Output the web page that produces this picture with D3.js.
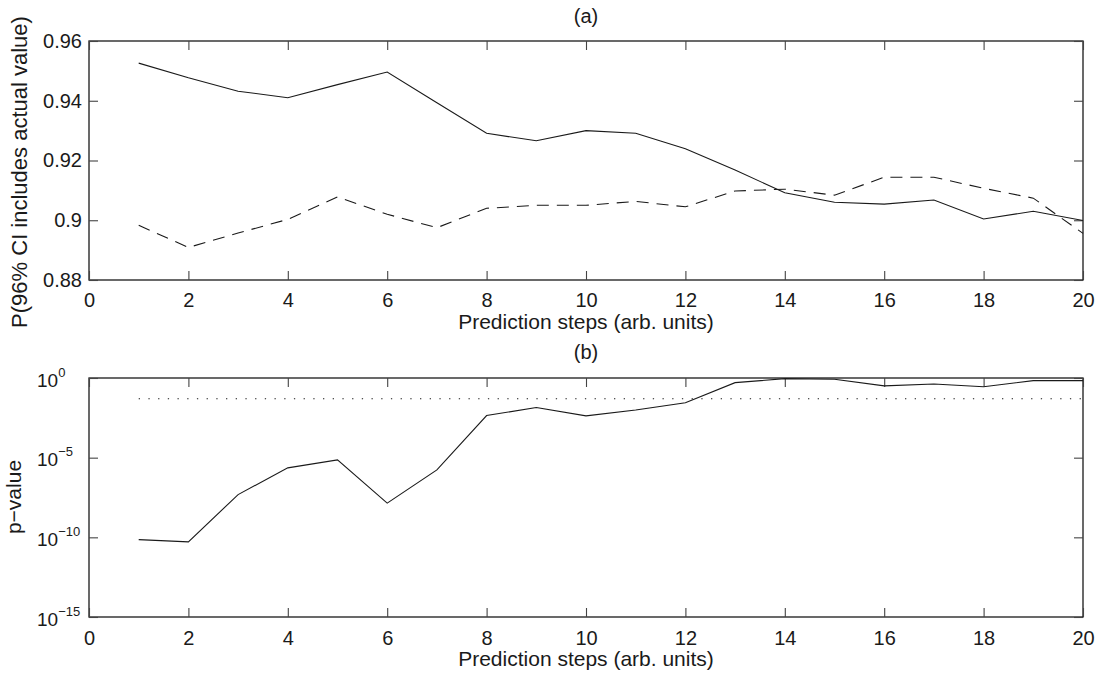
<!DOCTYPE html>
<html>
<head>
<meta charset="utf-8">
<script src="https://cdn.jsdelivr.net/npm/d3@7"></script>
<style>
  body { margin: 0; background: #fff; }
  svg { display: block; font-family: "Liberation Sans", Arial, sans-serif; }
</style>
</head>
<body>
<svg id="chart" width="1100" height="675"></svg>
<script>
var steps = [1, 2, 3, 4, 5, 6, 7, 8, 9, 10, 11, 12, 13, 14, 15, 16, 17, 18, 19, 20];
var coverageSolid = [0.9526, 0.9477, 0.9432, 0.9410, 0.9454, 0.9496, 0.9393, 0.9291, 0.9266, 0.9300,
                     0.9291, 0.9239, 0.9168, 0.9092, 0.9060, 0.9054, 0.9068, 0.9004, 0.9030, 0.8999];
var coverageDashed = [0.8983, 0.8909, 0.8957, 0.9003, 0.9078, 0.9020, 0.8975, 0.9040, 0.9050, 0.9050,
                      0.9063, 0.9045, 0.9098, 0.9104, 0.9084, 0.9144, 0.9144, 0.9107, 0.9074, 0.8956];
var pValues = [7.2e-11, 5.2e-11, 4.8e-8, 2.3e-6, 7.2e-6, 1.4e-8, 1.7e-6, 4.4e-3, 1.4e-2, 4.2e-3,
               9.8e-3, 2.8e-2, 0.51, 0.91, 0.83, 0.32, 0.42, 0.28, 0.68, 0.68];
var significance = 0.05;
var xTicks = [0, 2, 4, 6, 8, 10, 12, 14, 16, 18, 20];
var topYTicks = [0.88, 0.9, 0.92, 0.94, 0.96];
var logYTicks = [1e-15, 1e-10, 1e-5, 1];

var LEFT = 89, RIGHT = 1083;
var TICK = 9;
var INK = '#1a1a1a';

var svg = d3.select('#chart');

var x = d3.scaleLinear().domain([0, 20]).range([LEFT, RIGHT]);

function drawFrame(g, top, bottom, yScale, yTickVals, labelY) {
  // box
  g.append('rect')
    .attr('x', LEFT).attr('y', top)
    .attr('width', RIGHT - LEFT).attr('height', bottom - top)
    .attr('fill', 'none').attr('stroke', INK).attr('stroke-width', 1.3);

  var axB = g.append('g').attr('transform', 'translate(0,' + bottom + ')')
    .call(d3.axisBottom(x).tickValues(xTicks).tickSizeInner(-TICK).tickSizeOuter(0));
  var axT = g.append('g').attr('transform', 'translate(0,' + top + ')')
    .call(d3.axisTop(x).tickValues(xTicks).tickSizeInner(-TICK).tickSizeOuter(0).tickFormat(''));
  var axL = g.append('g').attr('transform', 'translate(' + LEFT + ',0)')
    .call(d3.axisLeft(yScale).tickValues(yTickVals).tickSizeInner(-TICK).tickSizeOuter(0).tickPadding(7));
  var axR = g.append('g').attr('transform', 'translate(' + RIGHT + ',0)')
    .call(d3.axisRight(yScale).tickValues(yTickVals).tickSizeInner(-TICK).tickSizeOuter(0).tickFormat(''));

  [axB, axT, axL, axR].forEach(function (a) {
    a.select('.domain').remove();
    a.selectAll('line').attr('stroke', '#444').attr('stroke-width', 1.1);
    a.selectAll('text').attr('fill', INK).style('font-size', '20px').style('font-family', null);
  });
  axB.selectAll('text').attr('dy', null).attr('y', labelY);
  return axL;
}

// ---- panel (a)
var topA = 41, botA = 280;
var yA = d3.scaleLinear().domain([0.88, 0.96]).range([botA, topA]);
var gA = svg.append('g');
var axLA = drawFrame(gA, topA, botA, yA, topYTicks, 27);
axLA.selectAll('text').text(function (d) { return d3.format('')(+d.toFixed(2)); });

var lineA = d3.line().x(function (d) { return x(d[0]); }).y(function (d) { return yA(d[1]); });
gA.append('path')
  .datum(steps.map(function (s, i) { return [s, coverageSolid[i]]; }))
  .attr('d', lineA).attr('fill', 'none').attr('stroke', INK).attr('stroke-width', 1.1);
gA.append('path')
  .datum(steps.map(function (s, i) { return [s, coverageDashed[i]]; }))
  .attr('d', lineA).attr('fill', 'none').attr('stroke', INK).attr('stroke-width', 1.1)
  .attr('stroke-dasharray', '12,8');

gA.append('text').attr('x', (LEFT + RIGHT) / 2).attr('y', 23)
  .attr('text-anchor', 'middle').attr('fill', INK).style('font-size', '20px').text('(a)');
gA.append('text').attr('x', (LEFT + RIGHT) / 2).attr('y', 329)
  .attr('text-anchor', 'middle').attr('fill', INK).style('font-size', '21px').text('Prediction steps (arb. units)');
gA.append('text').attr('transform', 'translate(27,172)rotate(-90)')
  .attr('text-anchor', 'middle').attr('fill', INK).style('font-size', '22px')
  .text('P(96% CI includes actual value)');

// ---- panel (b)
var topB = 378, botB = 617;
var yB = d3.scaleLog().domain([1e-15, 1]).range([botB, topB]);
var gB = svg.append('g');
var axLB = drawFrame(gB, topB, botB, yB, logYTicks, 28);
axLB.selectAll('.tick text').each(function (d) {
  var t = d3.select(this);
  var e = Math.round(Math.log10(d));
  t.text(null).attr('text-anchor', 'start').attr('x', 37 - LEFT).attr('dy', '0.4em');
  t.append('tspan').style('font-size', '19px').text('10');
  t.append('tspan').attr('dy', '-0.75em').style('font-size', '13px')
    .text(e === 0 ? '0' : '\u2212' + Math.abs(e));
});

var lineB = d3.line().x(function (d) { return x(d[0]); }).y(function (d) { return yB(d[1]); });
gB.append('path')
  .datum(steps.map(function (s) { return [s, significance]; }))
  .attr('d', lineB).attr('fill', 'none').attr('stroke', INK).attr('stroke-width', 1.1)
  .attr('stroke-dasharray', '1.3,8.4');
gB.append('path')
  .datum(steps.map(function (s, i) { return [s, pValues[i]]; }))
  .attr('d', lineB).attr('fill', 'none').attr('stroke', INK).attr('stroke-width', 1.1);

gB.append('text').attr('x', (LEFT + RIGHT) / 2).attr('y', 359)
  .attr('text-anchor', 'middle').attr('fill', INK).style('font-size', '20px').text('(b)');
gB.append('text').attr('x', (LEFT + RIGHT) / 2).attr('y', 666)
  .attr('text-anchor', 'middle').attr('fill', INK).style('font-size', '21px').text('Prediction steps (arb. units)');
gB.append('text').attr('transform', 'translate(21,497)rotate(-90)')
  .attr('text-anchor', 'middle').attr('fill', INK).style('font-size', '21px')
  .text('p\u2212value');
</script>
</body>
</html>
